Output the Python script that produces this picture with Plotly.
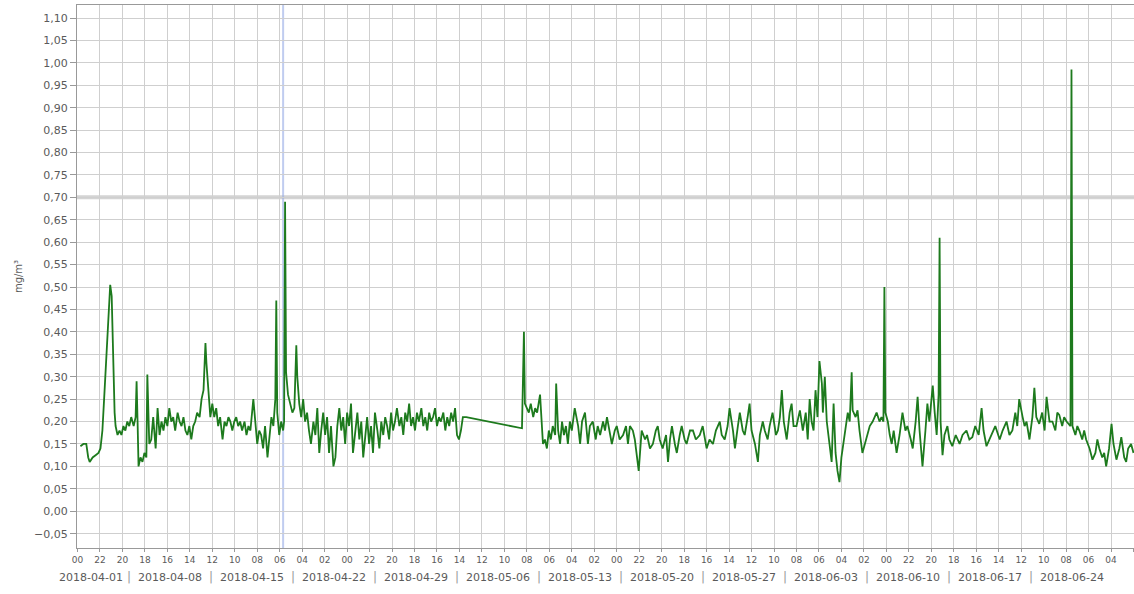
import pandas as pd
import plotly.graph_objects as go

# ---------------- data ----------------
START = "2018-04-04 00:00"          # reference time for HOURS
HOURS = [
    6, 12, 18, 22, 25, 31, 37, 43, 47, 51, 55, 59, 63, 67, 70, 72, 74, 76, 78, 82,
    86, 90, 94, 98, 102, 106, 110, 115, 119, 121, 123, 125, 129, 133, 137, 141, 143, 145, 147, 151,
    155, 160, 164, 168, 172, 176, 180, 184, 188, 192, 196, 200, 205, 209, 213, 217, 221, 225, 229, 233,
    237, 241, 245, 250, 254, 258, 262, 264, 268, 272, 276, 280, 284, 288, 292, 297, 301, 305, 309, 313,
    317, 321, 325, 329, 333, 337, 342, 346, 350, 354, 360, 364, 368, 372, 376, 380, 384, 389, 393, 397,
    401, 405, 407, 409, 413, 417, 421, 423, 425, 427, 431, 436, 440, 444, 448, 450, 454, 458, 462, 466,
    470, 474, 478, 483, 487, 491, 495, 499, 503, 507, 511, 515, 519, 524, 528, 532, 536, 540, 544, 548,
    552, 556, 560, 564, 569, 573, 577, 581, 585, 589, 593, 597, 601, 605, 609, 614, 618, 622, 626, 630,
    634, 638, 642, 646, 650, 654, 659, 663, 667, 671, 675, 679, 683, 687, 691, 695, 699, 704, 708, 712,
    716, 720, 724, 728, 732, 736, 740, 744, 749, 753, 757, 761, 765, 769, 773, 777, 781, 785, 789, 796,
    910, 914, 916, 920, 924, 928, 933, 937, 941, 947, 953, 957, 961, 965, 969, 973, 978, 980, 984, 988,
    992, 996, 1000, 1004, 1008, 1012, 1018, 1025, 1029, 1033, 1039, 1045, 1049, 1055, 1061, 1065, 1070, 1076, 1080, 1084,
    1090, 1094, 1100, 1104, 1110, 1117, 1123, 1127, 1131, 1137, 1141, 1145, 1149, 1153, 1155, 1162, 1166, 1172, 1178, 1184,
    1188, 1192, 1198, 1205, 1209, 1213, 1217, 1223, 1227, 1233, 1237, 1243, 1247, 1254, 1260, 1266, 1274, 1280, 1288, 1294,
    1301, 1307, 1315, 1319, 1325, 1331, 1335, 1342, 1346, 1352, 1356, 1362, 1366, 1372, 1376, 1380, 1387, 1393, 1397, 1403,
    1407, 1413, 1417, 1423, 1430, 1434, 1438, 1442, 1446, 1452, 1458, 1462, 1466, 1472, 1479, 1485, 1491, 1495, 1499, 1503,
    1507, 1511, 1515, 1519, 1524, 1526, 1530, 1534, 1540, 1544, 1548, 1552, 1556, 1560, 1564, 1571, 1577, 1581, 1585, 1587,
    1593, 1597, 1601, 1607, 1614, 1622, 1628, 1636, 1642, 1646, 1650, 1652, 1654, 1659, 1663, 1667, 1671, 1677, 1683, 1689,
    1695, 1699, 1706, 1710, 1716, 1720, 1724, 1730, 1736, 1740, 1744, 1751, 1755, 1759, 1763, 1765, 1767, 1771, 1775, 1781,
    1785, 1791, 1798, 1806, 1812, 1820, 1826, 1832, 1838, 1845, 1851, 1855, 1861, 1867, 1873, 1879, 1888, 1894, 1902, 1908,
    1914, 1920, 1924, 1928, 1935, 1939, 1943, 1949, 1955, 1959, 1963, 1969, 1975, 1980, 1984, 1990, 1996, 2002, 2006, 2010,
    2016, 2020, 2025, 2033, 2035, 2037, 2043, 2047, 2051, 2057, 2061, 2065, 2072, 2078, 2084, 2088, 2092, 2098, 2102, 2106,
    2112, 2117, 2121, 2127, 2133, 2137, 2143, 2147, 2151, 2157, 2162,
]
VALUES = [
    0.145, 0.15, 0.15, 0.12, 0.11, 0.12, 0.125, 0.13, 0.14, 0.18, 0.26, 0.34, 0.43, 0.505, 0.48, 0.38, 0.29, 0.22, 0.19, 0.17,
    0.18, 0.17, 0.19, 0.18, 0.20, 0.19, 0.21, 0.19, 0.21, 0.29, 0.20, 0.10, 0.12, 0.11, 0.13, 0.12, 0.305, 0.20, 0.15, 0.16,
    0.21, 0.14, 0.23, 0.17, 0.20, 0.18, 0.21, 0.19, 0.23, 0.20, 0.21, 0.18, 0.22, 0.20, 0.19, 0.21, 0.18, 0.17, 0.19, 0.16,
    0.19, 0.20, 0.22, 0.21, 0.25, 0.27, 0.375, 0.33, 0.26, 0.21, 0.24, 0.21, 0.23, 0.19, 0.21, 0.16, 0.20, 0.19, 0.21, 0.20,
    0.18, 0.20, 0.21, 0.19, 0.20, 0.18, 0.20, 0.17, 0.19, 0.18, 0.25, 0.19, 0.15, 0.18, 0.17, 0.14, 0.19, 0.12, 0.17, 0.21,
    0.19, 0.25, 0.47, 0.22, 0.17, 0.20, 0.18, 0.20, 0.69, 0.31, 0.26, 0.24, 0.22, 0.23, 0.37, 0.30, 0.24, 0.21, 0.25, 0.20,
    0.22, 0.18, 0.15, 0.20, 0.17, 0.23, 0.13, 0.18, 0.22, 0.17, 0.21, 0.13, 0.19, 0.10, 0.12, 0.19, 0.23, 0.18, 0.21, 0.15,
    0.22, 0.19, 0.24, 0.13, 0.18, 0.22, 0.16, 0.20, 0.12, 0.17, 0.21, 0.15, 0.19, 0.13, 0.22, 0.18, 0.14, 0.20, 0.17, 0.21,
    0.19, 0.16, 0.22, 0.18, 0.20, 0.23, 0.19, 0.21, 0.17, 0.22, 0.20, 0.24, 0.19, 0.21, 0.18, 0.22, 0.20, 0.23, 0.19, 0.21,
    0.18, 0.22, 0.20, 0.21, 0.23, 0.19, 0.21, 0.20, 0.22, 0.18, 0.21, 0.19, 0.22, 0.20, 0.23, 0.17, 0.16, 0.18, 0.21, 0.21,
    0.185, 0.40, 0.24, 0.23, 0.22, 0.24, 0.21, 0.23, 0.22, 0.26, 0.15, 0.16, 0.14, 0.18, 0.16, 0.19, 0.17, 0.285, 0.18, 0.15,
    0.20, 0.17, 0.19, 0.15, 0.20, 0.18, 0.23, 0.19, 0.15, 0.20, 0.22, 0.15, 0.19, 0.20, 0.16, 0.19, 0.17, 0.20, 0.18, 0.21,
    0.17, 0.15, 0.18, 0.19, 0.16, 0.17, 0.19, 0.15, 0.19, 0.18, 0.16, 0.13, 0.09, 0.15, 0.18, 0.16, 0.17, 0.14, 0.15, 0.18,
    0.19, 0.16, 0.14, 0.17, 0.11, 0.16, 0.19, 0.15, 0.13, 0.17, 0.19, 0.16, 0.15, 0.18, 0.18, 0.16, 0.17, 0.19, 0.14, 0.16,
    0.15, 0.18, 0.20, 0.17, 0.16, 0.19, 0.23, 0.18, 0.14, 0.19, 0.22, 0.18, 0.17, 0.21, 0.24, 0.18, 0.15, 0.11, 0.17, 0.20,
    0.18, 0.16, 0.19, 0.22, 0.17, 0.18, 0.21, 0.27, 0.20, 0.16, 0.22, 0.24, 0.19, 0.19, 0.225, 0.18, 0.22, 0.16, 0.25, 0.20,
    0.18, 0.27, 0.21, 0.335, 0.285, 0.22, 0.30, 0.20, 0.15, 0.11, 0.24, 0.13, 0.09, 0.065, 0.12, 0.17, 0.22, 0.20, 0.31, 0.225,
    0.21, 0.225, 0.18, 0.13, 0.16, 0.19, 0.20, 0.22, 0.20, 0.21, 0.20, 0.50, 0.22, 0.20, 0.17, 0.15, 0.18, 0.13, 0.17, 0.22,
    0.18, 0.19, 0.16, 0.14, 0.20, 0.255, 0.18, 0.10, 0.18, 0.24, 0.20, 0.28, 0.22, 0.17, 0.26, 0.61, 0.20, 0.125, 0.17, 0.19,
    0.16, 0.145, 0.17, 0.15, 0.17, 0.18, 0.16, 0.165, 0.19, 0.17, 0.23, 0.18, 0.145, 0.16, 0.175, 0.19, 0.16, 0.18, 0.20, 0.17,
    0.18, 0.22, 0.19, 0.25, 0.21, 0.19, 0.20, 0.16, 0.21, 0.275, 0.21, 0.195, 0.22, 0.18, 0.255, 0.20, 0.20, 0.18, 0.22, 0.215,
    0.19, 0.21, 0.20, 0.19, 0.985, 0.19, 0.17, 0.19, 0.18, 0.16, 0.18, 0.16, 0.14, 0.115, 0.13, 0.16, 0.14, 0.12, 0.13, 0.10,
    0.14, 0.195, 0.15, 0.115, 0.14, 0.165, 0.12, 0.11, 0.14, 0.15, 0.13,
]
WEEK_STARTS = ["2018-04-01", "2018-04-08", "2018-04-15", "2018-04-22", "2018-04-29",
               "2018-05-06", "2018-05-13", "2018-05-20", "2018-05-27", "2018-06-03",
               "2018-06-10", "2018-06-17", "2018-06-24"]
PERIOD_OFFSET_HOURS = 9        # week bands are drawn in a time zone 9 h from the hour row
X_RANGE_HOURS = [-1, 2163]
HOUR_TICK_STEP = 46            # hours between hour-of-day ticks
THRESHOLD = 0.70
MARKER_HOURS = 421
Y_TITLE = "mg/m³"

# ---------------- build ----------------
t0 = pd.Timestamp(START)
times = t0 + pd.to_timedelta(HOURS, unit="h")
x_lo = t0 + pd.Timedelta(hours=X_RANGE_HOURS[0])
x_hi = t0 + pd.Timedelta(hours=X_RANGE_HOURS[1])

tickvals, ticktext = [], []
k = 0
while True:
    t = t0 + pd.Timedelta(hours=k * HOUR_TICK_STEP)
    if t > x_hi:
        break
    tickvals.append(t)
    ticktext.append(f"{t.hour:02d}")
    k += 1

font_family = "DejaVu Sans, Verdana, sans-serif"
grey = "#5a5a5a"
fig = go.Figure()
fig.add_trace(go.Scatter(x=times, y=VALUES, mode="lines",
                         line=dict(color="#1d7a1d", width=1.8), showlegend=False))

# threshold band and marker line
fig.add_shape(type="line", xref="paper", x0=0, x1=1, yref="y", y0=THRESHOLD, y1=THRESHOLD,
              line=dict(color="rgba(170,170,170,0.5)", width=4), layer="below")
mk = t0 + pd.Timedelta(hours=MARKER_HOURS)
fig.add_shape(type="line", xref="x", x0=mk, x1=mk, yref="paper", y0=0, y1=1,
              line=dict(color="rgba(150,170,230,0.6)", width=2), layer="below")

# period (week) row
annos = []
off = pd.Timedelta(hours=PERIOD_OFFSET_HOURS)
date_font = dict(size=11, color=grey, family=font_family)
for ws in WEEK_STARTS:
    a = pd.Timestamp(ws) + off
    b = a + pd.Timedelta(days=7)
    lo, hi = max(a, x_lo), min(b, x_hi)
    if hi <= lo:
        continue
    if a < x_lo:
        # truncated first band: label ends just before its separator
        annos.append(dict(x=b, xref="x", y=0, yref="paper", yshift=-29, xshift=-4,
                          xanchor="right", yanchor="middle", text=ws, showarrow=False,
                          font=date_font))
    else:
        c = lo + (hi - lo) / 2
        annos.append(dict(x=c, xref="x", y=0, yref="paper", yshift=-29, yanchor="middle",
                          text=ws, showarrow=False, font=date_font))
        annos.append(dict(x=a, xref="x", y=0, yref="paper", yshift=-29, yanchor="middle",
                          text="|", showarrow=False,
                          font=dict(size=12, color="#9a9a9a", family=font_family)))

fig.update_layout(
    width=1134, height=594,
    margin=dict(l=77, r=0, t=5, b=46, autoexpand=False),
    paper_bgcolor="white", plot_bgcolor="white",
    separators=", ",
    annotations=annos,
    font=dict(family=font_family, size=10, color=grey),
)
fig.update_xaxes(
    type="date", range=[x_lo, x_hi], automargin=False,
    tickmode="array", tickvals=tickvals, ticktext=ticktext,
    showgrid=True, gridcolor="#cfcfcf", gridwidth=1,
    ticks="outside", ticklen=3, tickcolor="#999",
    tickfont=dict(size=9, color=grey),
    showline=True, linecolor="#999", mirror=True, zeroline=False,
)
fig.update_yaxes(
    range=[-0.082, 1.129], tick0=0, dtick=0.05, tickformat=".2f", automargin=False,
    showgrid=True, gridcolor="#cfcfcf", gridwidth=1,
    ticks="outside", ticklen=6, tickcolor="#999",
    tickfont=dict(size=11, color=grey),
    showline=True, linecolor="#999", mirror=True, zeroline=False,
    title=dict(text=Y_TITLE, font=dict(size=10, color=grey), standoff=9),
)

fig.write_html("out.html", config={"displayModeBar": False},
               post_script="document.body.style.margin='0';document.body.style.overflow='hidden';")
